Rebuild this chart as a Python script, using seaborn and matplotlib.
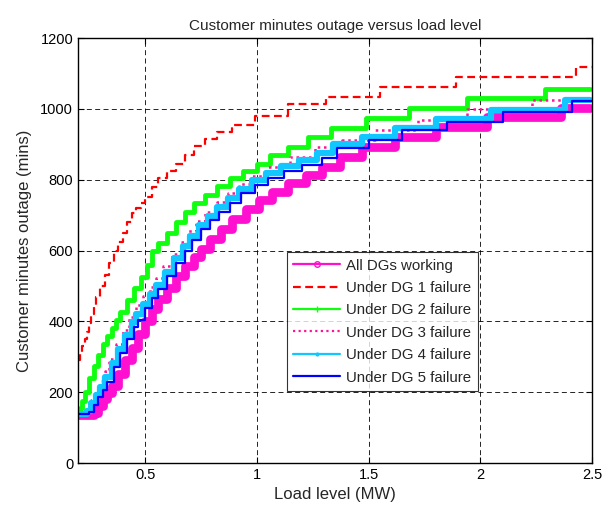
import numpy as np
import pandas as pd
import matplotlib
matplotlib.use('Agg')
import matplotlib.pyplot as plt
from matplotlib.lines import Line2D
import seaborn as sns

# step curves: load level (MW) where each level starts, outage (mins)
x_all = [0.20, 0.27, 0.29, 0.31, 0.33, 0.35, 0.38, 0.41, 0.44, 0.47, 0.50, 0.53, 0.56, 0.60, 0.64, 0.68,
         0.72, 0.75, 0.79, 0.84, 0.89, 0.95, 1.01, 1.07, 1.14, 1.22, 1.29, 1.37, 1.47, 1.62, 1.80, 2.03, 2.36, 2.49]
y_all = [135, 140, 160, 180, 198, 218, 252, 290, 325, 365, 400, 435, 462, 495, 527, 555,
         582, 605, 632, 660, 690, 718, 742, 765, 790, 813, 837, 865, 893, 920, 950, 977, 1002, 1002]

x_dg1 = [0.20, 0.21, 0.22, 0.23, 0.24, 0.25, 0.26, 0.27, 0.28, 0.30, 0.32, 0.34, 0.36, 0.38, 0.40, 0.42, 0.44, 0.46,
         0.48, 0.50, 0.53, 0.56, 0.60, 0.64, 0.68, 0.72, 0.77, 0.82, 0.89, 0.99, 1.14, 1.31, 1.55, 1.89, 2.43, 2.50]
y_dg1 = [290, 310, 330, 350, 370, 395, 420, 445, 470, 500, 530, 565, 600, 625, 650, 680, 705, 720,
         735, 752, 780, 805, 825, 845, 870, 895, 915, 935, 955, 980, 1013, 1034, 1062, 1090, 1119, 1119]

x_dg2 = [0.20, 0.21, 0.22, 0.23, 0.25, 0.27, 0.29, 0.31, 0.33, 0.35, 0.37, 0.39, 0.42, 0.45, 0.48, 0.51, 0.53, 0.56,
         0.60, 0.64, 0.68, 0.72, 0.77, 0.82, 0.88, 0.94, 1.00, 1.06, 1.14, 1.23, 1.33, 1.49, 1.68, 1.94, 2.29, 2.49]
y_dg2 = [141, 155, 175, 200, 240, 275, 305, 335, 360, 380, 405, 425, 460, 495, 525, 560, 600, 620,
         650, 680, 710, 735, 758, 782, 805, 825, 845, 870, 893, 920, 946, 974, 1002, 1030, 1056, 1056]

x_dg3 = [0.20, 0.24, 0.26, 0.28, 0.30, 0.32, 0.34, 0.37, 0.40, 0.43, 0.46, 0.49, 0.52, 0.55, 0.58, 0.62, 0.66,
         0.69, 0.73, 0.77, 0.82, 0.87, 0.92, 0.98, 1.05, 1.15, 1.26, 1.38, 1.53, 1.72, 1.94, 2.23, 2.42, 2.49]
y_dg3 = [138, 152, 178, 205, 232, 260, 295, 335, 375, 412, 445, 472, 498, 522, 555, 590, 625,
         655, 682, 710, 737, 762, 788, 810, 837, 865, 893, 912, 940, 968, 1000, 1025, 1032, 1032]

x_dg4 = [0.20, 0.24, 0.26, 0.28, 0.30, 0.32, 0.35, 0.38, 0.41, 0.44, 0.46, 0.49, 0.52, 0.55, 0.59, 0.63, 0.67,
         0.70, 0.74, 0.78, 0.82, 0.87, 0.92, 0.98, 1.04, 1.11, 1.19, 1.27, 1.34, 1.47, 1.62, 1.80, 2.05, 2.38, 2.49]
y_dg4 = [138, 148, 170, 192, 215, 242, 282, 322, 362, 398, 420, 450, 478, 502, 540, 578, 612,
         642, 672, 698, 722, 748, 775, 798, 818, 838, 855, 875, 900, 920, 945, 970, 998, 1025, 1025]

x_dg5 = [0.20, 0.25, 0.27, 0.29, 0.31, 0.33, 0.36, 0.39, 0.42, 0.45, 0.47, 0.50, 0.53, 0.56, 0.60, 0.64, 0.68,
         0.71, 0.75, 0.79, 0.83, 0.88, 0.93, 0.99, 1.05, 1.12, 1.20, 1.29, 1.36, 1.50, 1.65, 1.85, 2.10, 2.41, 2.50]
y_dg5 = [138, 145, 165, 185, 205, 230, 270, 310, 350, 385, 405, 438, 465, 490, 528, 565, 600,
         630, 660, 686, 710, 734, 762, 785, 805, 825, 842, 861, 889, 912, 940, 963, 992, 1022, 1022]

labels = ['All DGs working', 'Under DG 1 failure', 'Under DG 2 failure',
          'Under DG 3 failure', 'Under DG 4 failure', 'Under DG 5 failure']

sns.set_style('white')
plt.rcParams['font.family'] = ['Liberation Sans', 'DejaVu Sans']

fig = plt.figure(figsize=(6.11, 5.16), dpi=100)
ax = fig.add_axes([0.1277, 0.1027, 0.8413, 0.8236])

# (x, y, colour, linestyle, linewidth, legend marker)
series = [
    (x_all, y_all, '#ff10d0', '-', 6.3, 'o'),
    (x_dg1, y_dg1, '#ff0000', (0, (3.5, 2)), 1.6, None),
    (x_dg2, y_dg2, '#10ff10', '-', 3.5, '+'),
    (x_dg3, y_dg3, '#ff1493', (0, (1, 1.5)), 1.8, None),
    (x_dg4, y_dg4, '#10c8ff', '-', 4.5, '.'),
    (x_dg5, y_dg5, '#0000ff', '-', 1.6, None),
]

for xs, ys, c, ls, lw, mk in series:
    d = pd.DataFrame({'x': xs, 'y': ys})
    sns.lineplot(data=d, x='x', y='y', ax=ax, color=c, linestyle=ls, linewidth=lw,
                 drawstyle='steps-post', estimator=None, sort=False, legend=False,
                 solid_capstyle='round', solid_joinstyle='round')

ax.set_xlim(0.2, 2.5)
ax.set_ylim(0, 1200)
ax.set_xticks([0.5, 1, 1.5, 2, 2.5])
ax.set_xticklabels(['0.5', '1', '1.5', '2', '2.5'])
ax.set_yticks(np.arange(0, 1201, 200))
ax.grid(True, color='black', linestyle=(0, (6, 4)), linewidth=0.6)
ax.set_axisbelow(True)
ax.tick_params(direction='in', length=4, width=0.8, labelsize=10.5, colors='black',
               top=True, right=True, bottom=True, left=True)
for s in ax.spines.values():
    s.set_color('black')
    s.set_linewidth(1.0)

ax.set_title('Customer minutes outage versus load level', fontsize=11, pad=6)
ax.set_xlabel('Load level (MW)', fontsize=12, labelpad=4)
ax.set_ylabel('Customer minutes outage (mins)', fontsize=12, labelpad=6)

handles = []
for xs, ys, c, ls, lw, mk in series:
    handles.append(Line2D([], [], color=c, linestyle=ls, linewidth=1.6, marker=mk,
                          markersize=4, markerfacecolor='none' if mk == 'o' else c))
leg = ax.legend(handles, labels, loc='upper left', bbox_to_anchor=(0.406, 0.497),
                fontsize=10.8, frameon=True, fancybox=False, handlelength=3.1,
                labelspacing=0.56, borderpad=0.45, handletextpad=0.4, borderaxespad=0)
leg.get_frame().set_edgecolor('black')
leg.get_frame().set_linewidth(0.8)

fig.savefig('out.png', dpi=100)
